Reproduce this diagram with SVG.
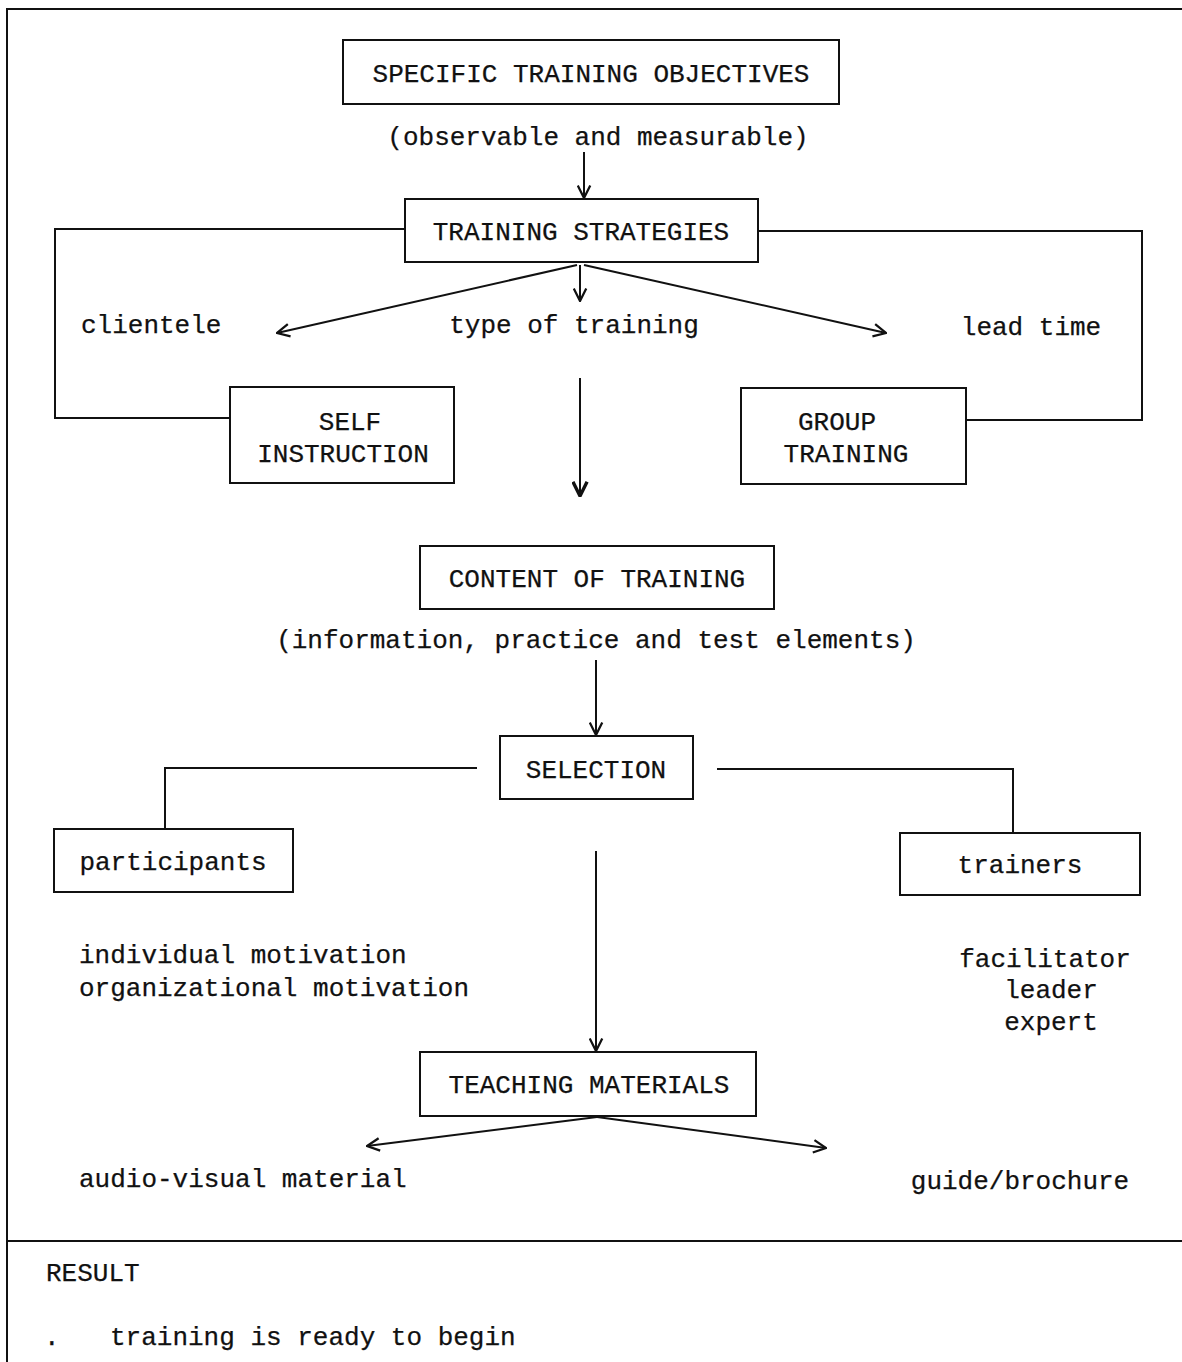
<svg xmlns="http://www.w3.org/2000/svg" width="1182" height="1362" viewBox="0 0 1182 1362">
  <style>
    .bg { fill: #ffffff; }
    .box { fill: #ffffff; stroke: #111; stroke-width: 2; }
    .ln { fill: none; stroke: #111; stroke-width: 2; }
    .arr { fill: none; stroke: #111; stroke-width: 2; marker-end: url(#head); }
    .arrB { fill: none; stroke: #111; stroke-width: 2; marker-end: url(#headBold); }
    text { font-family: "Liberation Mono", "Courier New", monospace; font-size: 26px; fill: #111; stroke: #111; stroke-width: 0.25; }
    .c { text-anchor: middle; }
  </style>
  <defs>
    <marker id="head" viewBox="0 0 12 12" refX="11" refY="6" markerWidth="15" markerHeight="15" markerUnits="userSpaceOnUse" orient="auto">
      <path d="M1,1 L11,6 L1,11" fill="none" stroke="#111" stroke-width="1.8"/>
    </marker>
    <marker id="headBold" viewBox="0 0 12 12" refX="11" refY="6" markerWidth="17" markerHeight="17" markerUnits="userSpaceOnUse" orient="auto">
      <path d="M1,1 L11,6 L1,11" fill="none" stroke="#111" stroke-width="2.4"/>
    </marker>
  </defs>

  <rect class="bg" x="0" y="0" width="1182" height="1362"/>

  <!-- page frame and result separator -->
  <g id="frame">
    <path class="ln" d="M7,1362 V9 H1182"/>
    <path class="ln" d="M7,1241 H1182"/>
  </g>

  <!-- connectors -->
  <g id="connectors">
    <path class="arr" d="M584,152 V198"/>
    <path class="ln" d="M405,229 H55 V418 H230"/>
    <path class="ln" d="M758,231 H1142 V420 H966"/>
    <path class="arr" d="M577,265 L277,333"/>
    <path class="arr" d="M580,265 V301"/>
    <path class="arr" d="M584,265 L886,333"/>
    <path class="arrB" d="M580,378 V496"/>
    <path class="arr" d="M596,660 V735"/>
    <path class="ln" d="M477,768 H165 V829"/>
    <path class="ln" d="M717,769 H1013 V833"/>
    <path class="arr" d="M596,851 V1051"/>
    <path class="arr" d="M597,1117 L367,1146"/>
    <path class="arr" d="M597,1117 L826,1148"/>
  </g>

  <g id="objectives">
    <rect class="box" x="343" y="40" width="496" height="64"/>
    <text class="c" x="591" y="82">SPECIFIC TRAINING OBJECTIVES</text>
    <text class="c" x="598" y="145">(observable and measurable)</text>
  </g>

  <g id="strategies">
    <rect class="box" x="405" y="199" width="353" height="63"/>
    <text class="c" x="581" y="240">TRAINING STRATEGIES</text>
  </g>

  <g id="strategy-labels">
    <text x="81" y="333">clientele</text>
    <text class="c" x="574" y="333">type of training</text>
    <text class="c" x="1031" y="335">lead time</text>
  </g>

  <g id="self-instruction">
    <rect class="box" x="230" y="387" width="224" height="96"/>
    <text class="c" x="350" y="430">SELF</text>
    <text class="c" x="343" y="462">INSTRUCTION</text>
  </g>

  <g id="group-training">
    <rect class="box" x="741" y="388" width="225" height="96"/>
    <text class="c" x="837" y="430">GROUP</text>
    <text class="c" x="846" y="462">TRAINING</text>
  </g>

  <g id="content">
    <rect class="box" x="420" y="546" width="354" height="63"/>
    <text class="c" x="597" y="587">CONTENT OF TRAINING</text>
    <text class="c" x="596" y="648">(information, practice and test elements)</text>
  </g>

  <g id="selection">
    <rect class="box" x="500" y="736" width="193" height="63"/>
    <text class="c" x="596" y="778">SELECTION</text>
  </g>

  <g id="participants">
    <rect class="box" x="54" y="829" width="239" height="63"/>
    <text class="c" x="173" y="870">participants</text>
    <text x="79" y="963">individual motivation</text>
    <text x="79" y="996">organizational motivation</text>
  </g>

  <g id="trainers">
    <rect class="box" x="900" y="833" width="240" height="62"/>
    <text class="c" x="1020" y="873">trainers</text>
    <text class="c" x="1045" y="967">facilitator</text>
    <text class="c" x="1051" y="998">leader</text>
    <text class="c" x="1051" y="1030">expert</text>
  </g>

  <g id="teaching-materials">
    <rect class="box" x="420" y="1052" width="336" height="64"/>
    <text class="c" x="589" y="1093">TEACHING MATERIALS</text>
    <text x="79" y="1187">audio-visual material</text>
    <text class="c" x="1020" y="1189">guide/brochure</text>
  </g>

  <g id="result">
    <text x="46" y="1281">RESULT</text>
    <text x="44" y="1345">.</text>
    <text x="110" y="1345">training is ready to begin</text>
  </g>
</svg>
